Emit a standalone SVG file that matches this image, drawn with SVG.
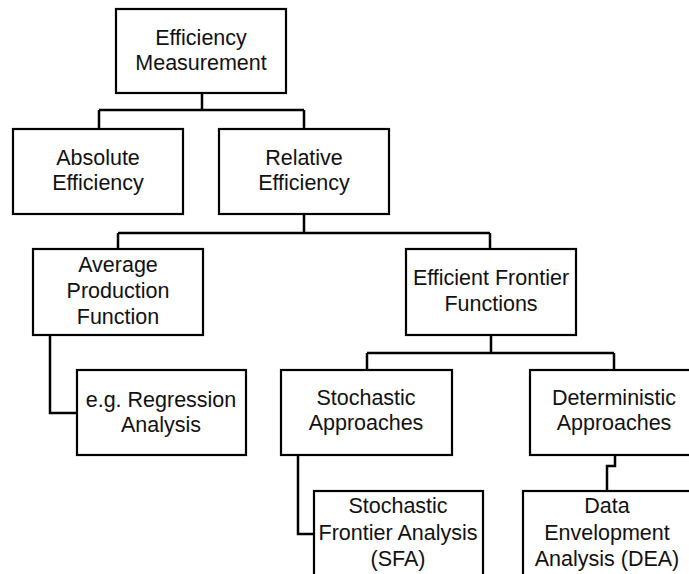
<svg xmlns="http://www.w3.org/2000/svg" width="689" height="574" viewBox="0 0 689 574">
<style>
.box{fill:#fff;stroke:#000;stroke-width:2.2}
.t{font-family:"Liberation Sans",Arial,sans-serif;font-size:21.5px;fill:#111;text-anchor:middle}
.c{fill:none;stroke:#000;stroke-width:2.5}
</style>
<rect width="689" height="574" fill="#fff"/>
<g id="connectors">
<path class="c" d="M202 93V110M99 110H304M99 110V129M304 110V129"/>
<path class="c" d="M304 214V233M118 233H490M118 233V249M490 233V249"/>
<path class="c" d="M50 335V413H77"/>
<path class="c" d="M491 335V353M367 353H614M367 353V370M614 353V370"/>
<path class="c" d="M298 455V534H314"/>
<path class="c" d="M615 455V466H607V491"/>
</g>
<g id="efficiency-measurement">
<rect class="box" x="116" y="9" width="170" height="84"/>
<text class="t" x="201" y="45">Efficiency</text>
<text class="t" x="201" y="70">Measurement</text>
</g>
<g id="absolute-efficiency">
<rect class="box" x="13" y="129" width="170" height="85"/>
<text class="t" x="98" y="165">Absolute</text>
<text class="t" x="98" y="190">Efficiency</text>
</g>
<g id="relative-efficiency">
<rect class="box" x="219" y="129" width="170" height="85"/>
<text class="t" x="304" y="165">Relative</text>
<text class="t" x="304" y="190">Efficiency</text>
</g>
<g id="average-production-function">
<rect class="box" x="33" y="249" width="170" height="86"/>
<text class="t" x="118" y="272">Average</text>
<text class="t" x="118" y="298">Production</text>
<text class="t" x="118" y="324">Function</text>
</g>
<g id="efficient-frontier-functions">
<rect class="box" x="406" y="249" width="170" height="86"/>
<text class="t" x="491" y="285">Efficient Frontier</text>
<text class="t" x="491" y="311">Functions</text>
</g>
<g id="regression-analysis">
<rect class="box" x="77" y="370" width="169" height="85"/>
<text class="t" x="161" y="407">e.g. Regression</text>
<text class="t" x="161" y="432">Analysis</text>
</g>
<g id="stochastic-approaches">
<rect class="box" x="281" y="370" width="171" height="85"/>
<text class="t" x="366" y="405">Stochastic</text>
<text class="t" x="366" y="430">Approaches</text>
</g>
<g id="deterministic-approaches">
<rect class="box" x="530" y="370" width="170" height="85"/>
<text class="t" x="614" y="405">Deterministic</text>
<text class="t" x="614" y="430">Approaches</text>
</g>
<g id="sfa">
<rect class="box" x="314" y="491" width="169" height="100"/>
<text class="t" x="398" y="513">Stochastic</text>
<text class="t" x="398" y="540">Frontier Analysis</text>
<text class="t" x="398" y="566">(SFA)</text>
</g>
<g id="dea">
<rect class="box" x="523" y="491" width="170" height="100"/>
<text class="t" x="607" y="513">Data</text>
<text class="t" x="607" y="540">Envelopment</text>
<text class="t" x="607" y="566">Analysis (DEA)</text>
</g>
</svg>
